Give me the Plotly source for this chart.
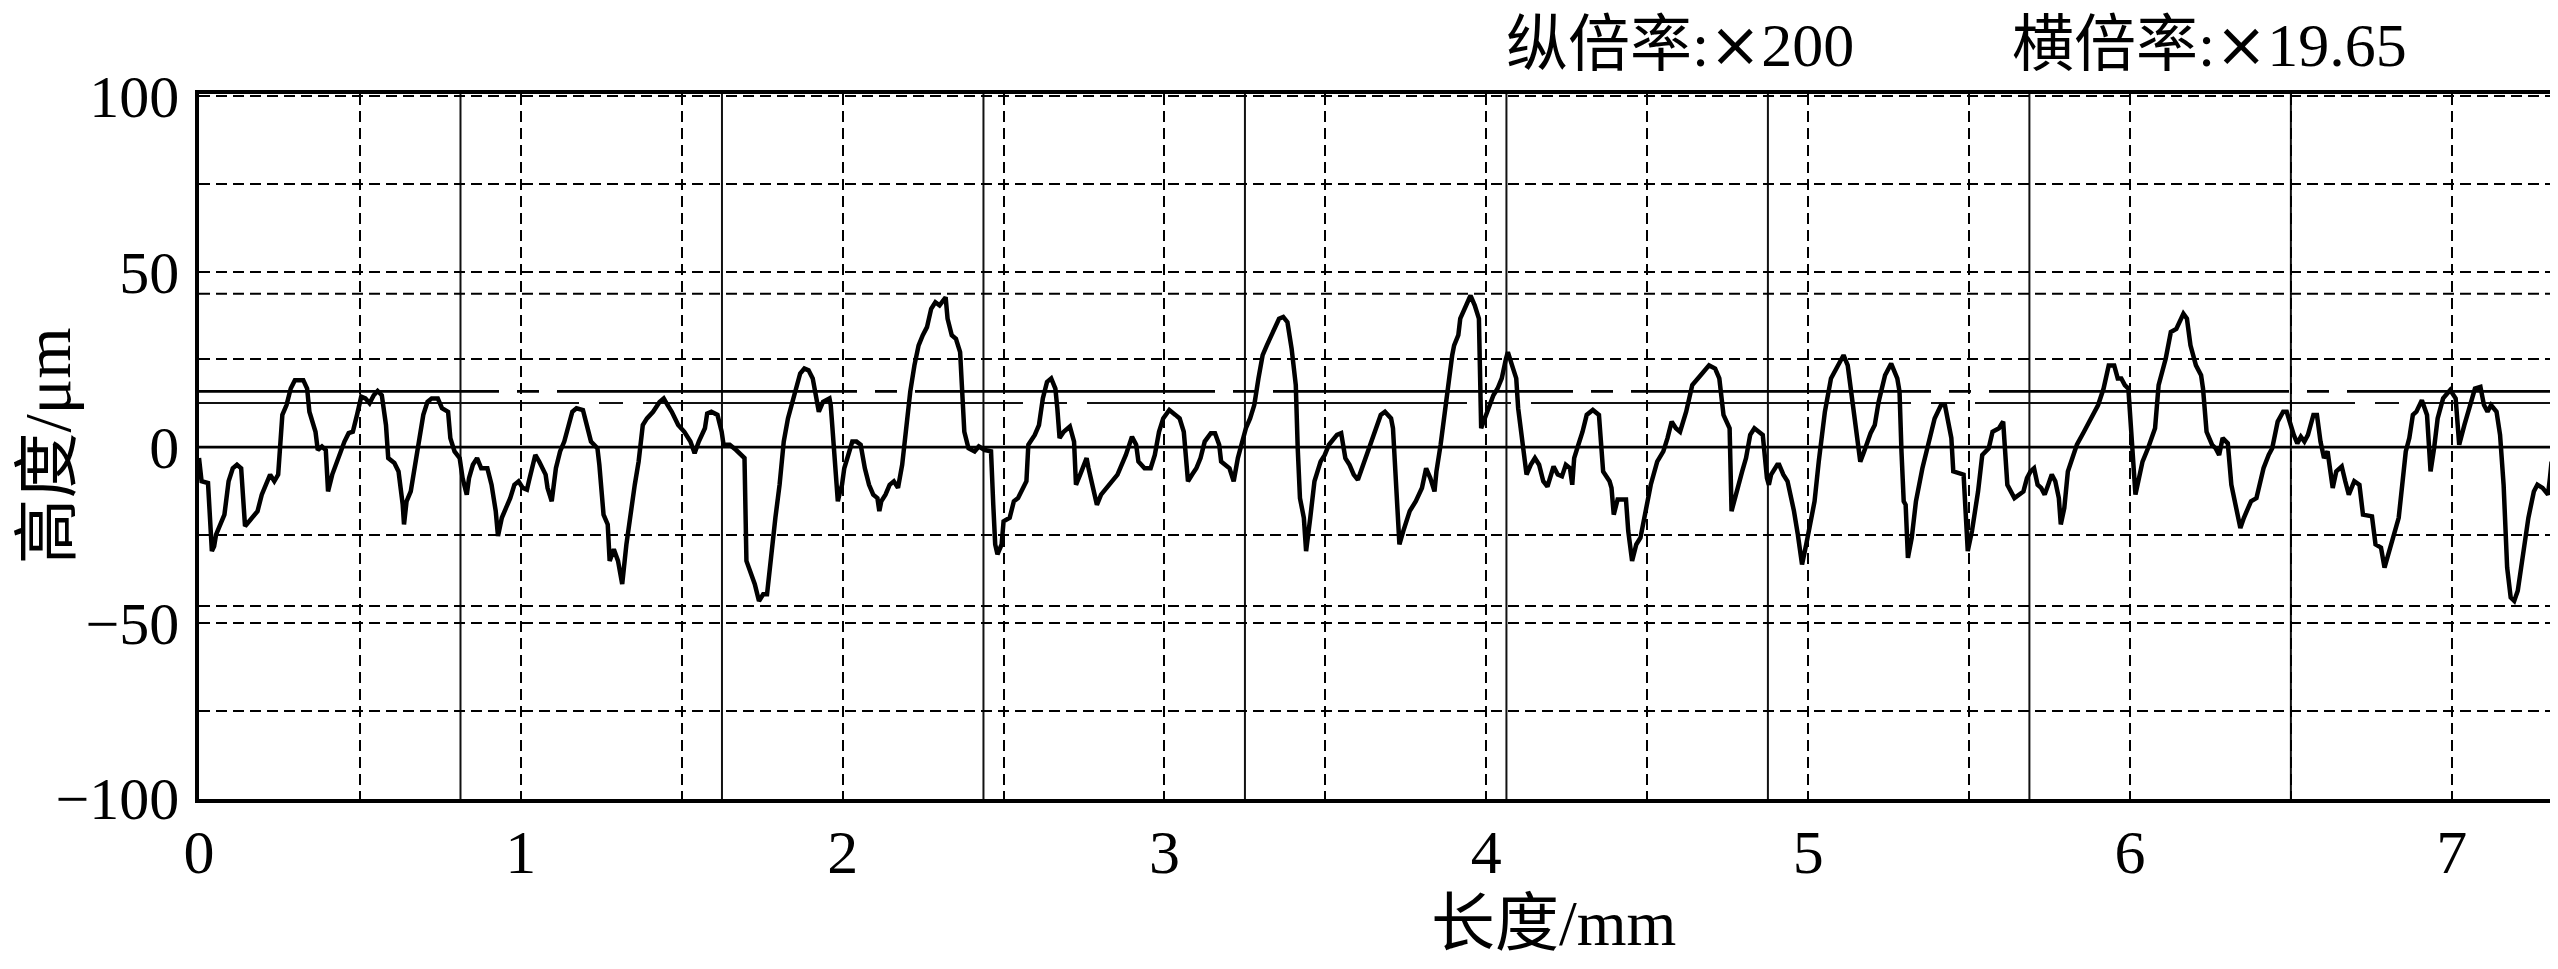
import plotly.graph_objects as go

# ---- data ----
x_mm = [0.000, 0.008, 0.028, 0.040, 0.047, 0.053, 0.079, 0.092, 0.105, 0.118, 0.131, 0.137, 0.143, 0.156, 0.182, 0.195,
        0.208, 0.221, 0.234, 0.246, 0.259, 0.272, 0.285, 0.298, 0.324, 0.336, 0.343, 0.362, 0.369, 0.382, 0.394, 0.401,
        0.414, 0.439, 0.452, 0.465, 0.478, 0.491, 0.504, 0.517, 0.530, 0.543, 0.555, 0.568, 0.581, 0.588, 0.607, 0.620,
        0.633, 0.637, 0.645, 0.658, 0.671, 0.684, 0.697, 0.710, 0.723, 0.742, 0.755, 0.774, 0.781, 0.794, 0.810, 0.819,
        0.832, 0.839, 0.851, 0.864, 0.877, 0.896, 0.909, 0.922, 0.929, 0.941, 0.967, 0.980, 0.993, 1.006, 1.019, 1.025,
        1.045, 1.057, 1.077, 1.083, 1.096, 1.109, 1.122, 1.135, 1.148, 1.160, 1.173, 1.193, 1.205, 1.218, 1.238, 1.244,
        1.257, 1.270, 1.276, 1.289, 1.302, 1.315, 1.328, 1.341, 1.354, 1.366, 1.379, 1.392, 1.411, 1.431, 1.444, 1.456,
        1.469, 1.489, 1.508, 1.527, 1.540, 1.553, 1.572, 1.579, 1.592, 1.611, 1.624, 1.630, 1.649, 1.669, 1.688, 1.695,
        1.701, 1.714, 1.727, 1.740, 1.753, 1.765, 1.778, 1.791, 1.804, 1.817, 1.830, 1.843, 1.856, 1.868, 1.881, 1.894,
        1.907, 1.920, 1.926, 1.939, 1.959, 1.963, 1.972, 1.979, 1.985, 1.992, 1.998, 2.005, 2.017, 2.030, 2.043, 2.056,
        2.069, 2.082, 2.095, 2.108, 2.114, 2.120, 2.133, 2.146, 2.159, 2.172, 2.185, 2.198, 2.210, 2.223, 2.236, 2.249,
        2.262, 2.275, 2.288, 2.301, 2.314, 2.320, 2.326, 2.339, 2.352, 2.365, 2.378, 2.391, 2.410, 2.423, 2.442, 2.461,
        2.468, 2.474, 2.481, 2.494, 2.500, 2.519, 2.532, 2.545, 2.571, 2.577, 2.597, 2.610, 2.622, 2.635, 2.648, 2.661,
        2.667, 2.674, 2.687, 2.706, 2.719, 2.725, 2.738, 2.758, 2.764, 2.777, 2.790, 2.803, 2.828, 2.841, 2.854, 2.880,
        2.899, 2.912, 2.919, 2.938, 2.957, 2.970, 2.983, 2.996, 3.015, 3.034, 3.047, 3.060, 3.073, 3.086, 3.099, 3.112,
        3.125, 3.144, 3.157, 3.170, 3.176, 3.202, 3.215, 3.228, 3.240, 3.253, 3.266, 3.279, 3.292, 3.305, 3.318, 3.343,
        3.356, 3.369, 3.382, 3.395, 3.408, 3.414, 3.421, 3.433, 3.440, 3.453, 3.466, 3.485, 3.498, 3.511, 3.536, 3.549,
        3.562, 3.575, 3.588, 3.601, 3.614, 3.633, 3.652, 3.672, 3.685, 3.704, 3.710, 3.723, 3.730, 3.742, 3.762, 3.781,
        3.800, 3.813, 3.826, 3.839, 3.845, 3.858, 3.878, 3.894, 3.900, 3.913, 3.919, 3.932, 3.945, 3.951, 3.964, 3.977,
        3.984, 3.996, 4.009, 4.022, 4.035, 4.048, 4.061, 4.067, 4.080, 4.093, 4.099, 4.112, 4.125, 4.138, 4.151, 4.164,
        4.177, 4.190, 4.202, 4.209, 4.222, 4.235, 4.247, 4.260, 4.267, 4.273, 4.286, 4.299, 4.312, 4.331, 4.350, 4.363,
        4.383, 4.389, 4.396, 4.408, 4.434, 4.441, 4.453, 4.466, 4.479, 4.492, 4.511, 4.531, 4.550, 4.563, 4.576, 4.589,
        4.602, 4.621, 4.640, 4.666, 4.692, 4.711, 4.724, 4.737, 4.756, 4.762, 4.782, 4.795, 4.807, 4.820, 4.833, 4.859,
        4.872, 4.878, 4.885, 4.904, 4.910, 4.923, 4.936, 4.956, 4.968, 4.981, 4.994, 5.007, 5.020, 5.033, 5.052, 5.071,
        5.091, 5.110, 5.123, 5.136, 5.149, 5.162, 5.174, 5.194, 5.207, 5.219, 5.239, 5.258, 5.277, 5.284, 5.290, 5.297,
        5.303, 5.310, 5.322, 5.335, 5.355, 5.374, 5.393, 5.413, 5.425, 5.445, 5.451, 5.483, 5.490, 5.496, 5.509, 5.528,
        5.541, 5.561, 5.573, 5.593, 5.606, 5.619, 5.641, 5.669, 5.680, 5.691, 5.702, 5.713, 5.724, 5.735, 5.746, 5.757,
        5.768, 5.779, 5.785, 5.796, 5.807, 5.818, 5.835, 5.857, 5.879, 5.901, 5.918, 5.934, 5.951, 5.962, 5.973, 5.984,
        5.995, 6.006, 6.017, 6.028, 6.039, 6.056, 6.078, 6.089, 6.111, 6.127, 6.144, 6.166, 6.177, 6.188, 6.205, 6.221,
        6.227, 6.238, 6.255, 6.266, 6.277, 6.288, 6.304, 6.315, 6.332, 6.343, 6.354, 6.365, 6.376, 6.393, 6.404, 6.415,
        6.431, 6.442, 6.459, 6.476, 6.487, 6.498, 6.509, 6.520, 6.531, 6.542, 6.553, 6.570, 6.581, 6.592, 6.603, 6.614,
        6.630, 6.641, 6.658, 6.669, 6.680, 6.697, 6.713, 6.724, 6.752, 6.763, 6.780, 6.791, 6.802, 6.818, 6.835, 6.846,
        6.857, 6.868, 6.879, 6.890, 6.907, 6.923, 6.929, 6.934, 6.945, 6.956, 6.973, 6.995, 7.012, 7.023, 7.039, 7.056,
        7.072, 7.089, 7.100, 7.111, 7.122, 7.139, 7.150, 7.161, 7.166, 7.172, 7.183, 7.194, 7.205, 7.216, 7.227, 7.238,
        7.255, 7.266, 7.282, 7.299, 7.305, 7.310]

height_um = [-3.1, -9.7, -10.2, -29.6, -28.2, -24.9, -19.2, -9.7, -6.0, -5.0, -6.0, -14.5, -22.5, -21.1, -18.2, -13.5,
             -10.7, -7.8, -9.7, -7.8, 9.2, 12.0, 16.7, 19.1, 19.1, 16.7, 10.1, 4.4, -0.8, 0.2, -0.8, -12.6,
             -7.8, -1.2, 1.6, 4.0, 4.4, 9.2, 14.4, 13.9, 12.5, 14.8, 16.0, 14.8, 6.3, -3.1, -4.5, -6.9,
             -16.4, -22.0, -15.4, -12.6, -5.0, 2.6, 9.2, 12.9, 13.9, 13.9, 11.1, 10.1, 2.6, -1.2, -3.1, -8.8,
             -13.5, -8.8, -5.0, -3.1, -6.0, -6.0, -10.7, -18.2, -25.3, -20.1, -14.5, -10.7, -9.7, -11.6, -12.1, -9.7,
             -2.2, -4.1, -7.8, -11.6, -15.4, -6.0, -1.2, 1.6, 6.3, 10.1, 11.1, 10.6, 6.3, 1.6, -0.3, -5.0,
             -19.2, -22.0, -32.4, -29.1, -32.4, -39.0, -27.7, -18.2, -10.7, -4.1, 6.3, 8.2, 10.1, 12.9, 13.9, 12.0,
             10.1, 6.3, 4.4, 1.6, -1.7, 1.6, 5.4, 9.6, 10.1, 9.2, 4.4, 0.7, 0.7, -0.8, -2.2, -3.1,
             -32.4, -35.3, -39.0, -43.8, -41.9, -41.9, -29.6, -20.1, -10.7, 1.6, 8.2, 12.9, 17.7, 21.0, 22.4, 21.9,
             19.6, 13.9, 10.1, 12.9, 13.9, 12.0, 0.7, -6.0, -15.4, -12.6, -10.7, -6.0, -2.2, 1.6, 1.6, 0.7,
             -6.0, -10.7, -13.5, -14.5, -18.2, -15.4, -13.5, -10.7, -9.7, -11.6, -5.0, 6.3, 15.8, 23.3, 29.0, 31.9,
             34.2, 39.4, 41.3, 40.4, 42.2, 42.7, 36.6, 31.9, 30.9, 27.1, 4.4, -0.3, -1.2, 0.2, -0.8, -1.2,
             -16.4, -27.7, -30.5, -27.7, -21.1, -20.1, -15.4, -14.5, -9.7, 0.7, 3.5, 6.3, 13.9, 18.6, 19.6, 16.7,
             11.1, 2.6, 4.4, 5.9, 1.6, -10.7, -7.8, -3.1, -6.0, -11.6, -16.4, -13.5, -10.7, -9.7, -7.8, -2.2,
             3.0, 0.7, -4.1, -6.0, -6.0, -2.2, 4.4, 8.2, 10.6, 9.2, 8.2, 4.4, -9.7, -7.8, -6.0, -3.1,
             1.6, 4.0, 4.0, 0.7, -4.1, -6.0, -9.7, -3.1, 0.7, 5.4, 8.2, 12.0, 19.6, 26.2, 29.0, 33.7,
             36.6, 37.1, 35.6, 28.1, 17.7, -0.3, -14.5, -20.1, -29.6, -20.1, -9.7, -4.1, -2.2, 0.7, 3.5, 4.0,
             -3.1, -5.0, -7.8, -9.3, -6.0, -1.2, 4.4, 9.2, 10.1, 8.2, 5.4, -15.4, -27.7, -23.9, -18.2, -15.4,
             -11.6, -6.0, -8.8, -12.6, -6.9, 0.7, 15.8, 26.2, 29.0, 31.9, 36.6, 39.4, 42.2, 43.2, 40.4, 36.6,
             5.4, 8.2, 12.0, 14.8, 16.7, 19.6, 25.2, 27.1, 23.3, 19.6, 11.1, 2.6, -7.8, -5.0, -3.1, -5.0,
             -9.7, -11.2, -7.8, -5.5, -7.8, -8.3, -5.0, -6.0, -10.7, -3.1, 0.7, 4.4, 9.2, 10.6, 9.2, -6.9,
             -9.7, -11.6, -19.2, -14.9, -14.9, -23.9, -32.4, -27.7, -25.8, -20.1, -10.7, -4.1, -1.2, 2.6, 7.3, 5.4,
             4.4, 10.1, 17.7, 20.5, 23.3, 22.4, 19.6, 9.2, 5.4, -18.2, -10.7, -6.9, -3.1, 3.5, 5.4, 3.5,
             -8.8, -10.7, -7.8, -5.0, -5.0, -7.8, -9.7, -18.2, -24.9, -33.4, -27.7, -22.0, -15.4, -4.1, 10.1, 19.6,
             23.3, 26.2, 23.3, 14.8, 4.4, -4.1, -1.2, 4.0, 6.3, 12.9, 20.5, 23.8, 19.6, 15.8, -1.2, -15.4,
             -16.4, -31.5, -25.8, -15.4, -6.0, 1.6, 8.2, 12.0, 12.0, 2.6, -6.9, -7.8, -17.3, -29.6, -23.9, -12.6,
             -2.2, -0.3, 4.4, 5.4, 7.3, -10.7, -14.5, -12.6, -8.8, -6.9, -6.0, -10.7, -11.6, -13.5, -10.7, -7.8,
             -9.7, -14.5, -22.0, -17.3, -6.9, -4.1, 0.7, 4.4, 8.2, 12.0, 16.7, 23.3, 23.3, 19.6, 19.6, 17.7,
             16.7, 0.7, -13.5, -8.8, -4.1, -0.3, 5.4, 17.7, 25.2, 32.8, 33.7, 38.0, 36.6, 29.0, 23.3, 20.5,
             16.7, 4.4, 0.7, -0.3, -2.2, 2.6, 1.1, -10.7, -19.2, -23.0, -20.1, -17.3, -15.4, -14.5, -10.7, -6.0,
             -2.2, -0.3, 7.3, 10.1, 10.1, 6.3, 3.5, 1.1, 3.0, 1.6, 3.5, 9.2, 9.2, 1.6, -3.1, -1.2,
             -11.6, -6.9, -5.5, -9.7, -13.5, -9.7, -10.7, -19.2, -19.7, -27.7, -28.6, -34.3, -30.5, -24.9, -20.1, -10.7,
             -1.2, 2.6, 9.2, 10.1, 13.4, 9.2, -2.2, -6.9, -0.3, 8.2, 13.9, 16.3, 13.9, 0.7, 6.3, 12.0,
             16.7, 17.2, 12.0, 10.1, 12.0, 10.1, 3.5, -10.7, -20.1, -34.3, -42.8, -43.8, -40.9, -34.3, -25.8, -20.1,
             -12.6, -10.7, -11.6, -13.5, -8.8, -4.1]

x_tick_vals = [0, 0.5, 1, 1.5, 2, 2.5, 3, 3.5, 4, 4.5, 5, 5.5, 6, 6.5, 7]
x_tick_text = ["0", "", "1", "", "2", "", "3", "", "4", "", "5", "", "6", "", "7"]
y_tick_vals = [-100, -75, -50, -25, 0, 25, 50, 75, 100]
y_tick_text = ["\u2212100", "", "\u221250", "", "0", "", "50", "", "100"]

sampling_bounds = [0.8125, 1.625, 2.4375, 3.25, 4.0625, 4.875, 5.6875, 6.5, 7.3125]
peak_valley_lines = [43.7, -45.2]
upper_lines = [15.9, 12.6]
x_range = [0, 7.33]
y_range = [-100.2, 100.6]

header_labels = ["纵倍率:", "横倍率:"]
header_values = ["200", "19.65"]
x_title = "长度/mm"
y_title = "高度/μm"

FONT = "Liberation Serif, Noto Sans CJK SC, serif"
DASH = "11px,6px"


def header(label, value):
    return label + "<span style=\"font-family:'DejaVu Sans'\">×</span>" + value


fig = go.Figure()
fig.add_trace(go.Scatter(x=x_mm, y=height_um, mode="lines",
                         line=dict(color="black", width=4.5), hoverinfo="skip",
                         showlegend=False))

shapes = []
for xv in sampling_bounds:
    shapes.append(dict(type="line", xref="x", yref="paper", x0=xv, x1=xv, y0=0, y1=1,
                       line=dict(color="#111111", width=2), layer="below"))
for yv in peak_valley_lines:
    shapes.append(dict(type="line", xref="paper", yref="y", x0=0, x1=1, y0=yv, y1=yv,
                       line=dict(color="black", width=2, dash=DASH), layer="below"))
shapes.append(dict(type="line", xref="paper", yref="y", x0=0, x1=1, y0=upper_lines[0], y1=upper_lines[0],
                   line=dict(color="black", width=2.6, dash="300px,18px,22px,18px"), layer="below"))
shapes.append(dict(type="line", xref="paper", yref="y", x0=0, x1=1, y0=upper_lines[1], y1=upper_lines[1],
                   line=dict(color="#111111", width=2, dash="380px,20px,24px,20px"), layer="below"))
shapes.append(dict(type="line", xref="paper", yref="y", x0=0, x1=1, y0=0, y1=0,
                   line=dict(color="black", width=2.8), layer="below"))

annotations = [
    dict(text=header(header_labels[0], header_values[0]), xref="paper", yref="paper", x=0.5532, y=1.0709,
         xanchor="left", yanchor="middle", showarrow=False, font=dict(family=FONT, size=62, color="black")),
    dict(text=header(header_labels[1], header_values[1]), xref="paper", yref="paper", x=0.7677, y=1.0709,
         xanchor="left", yanchor="middle", showarrow=False, font=dict(family=FONT, size=62, color="black")),
    dict(text=x_title, xref="paper", yref="paper", x=0.574, y=-0.1773,
         xanchor="center", yanchor="middle", showarrow=False, font=dict(family=FONT, size=64, color="black")),
    dict(text=y_title, xref="paper", yref="paper", x=-0.0644, y=0.5, textangle=-90,
         xanchor="center", yanchor="middle", showarrow=False, font=dict(family=FONT, size=66, color="black")),
]

# The page body adds an 8px offset; margins are set so the plot lands where the reference has it.
fig.update_layout(
    width=2550, height=969,
    margin=dict(l=191, r=0, t=86, b=178, autoexpand=False),
    paper_bgcolor="white", plot_bgcolor="white",
    shapes=shapes, annotations=annotations,
    font=dict(family=FONT, size=58, color="black"),
    xaxis=dict(range=x_range, tickvals=x_tick_vals, ticktext=x_tick_text,
               showgrid=True, gridcolor="black", gridwidth=2, griddash=DASH,
               zeroline=False, showline=True, linecolor="black", linewidth=3.5, mirror=True,
               ticks="", ticklabelstandoff=-4, tickfont=dict(family=FONT, size=62)),
    yaxis=dict(range=y_range, tickvals=y_tick_vals, ticktext=y_tick_text,
               showgrid=True, gridcolor="black", gridwidth=2, griddash=DASH,
               zeroline=False, showline=True, linecolor="black", linewidth=3.5, mirror=True,
               ticks="", ticklabelstandoff=4, tickfont=dict(family=FONT, size=60)),
)

fig.write_html("out.html")
